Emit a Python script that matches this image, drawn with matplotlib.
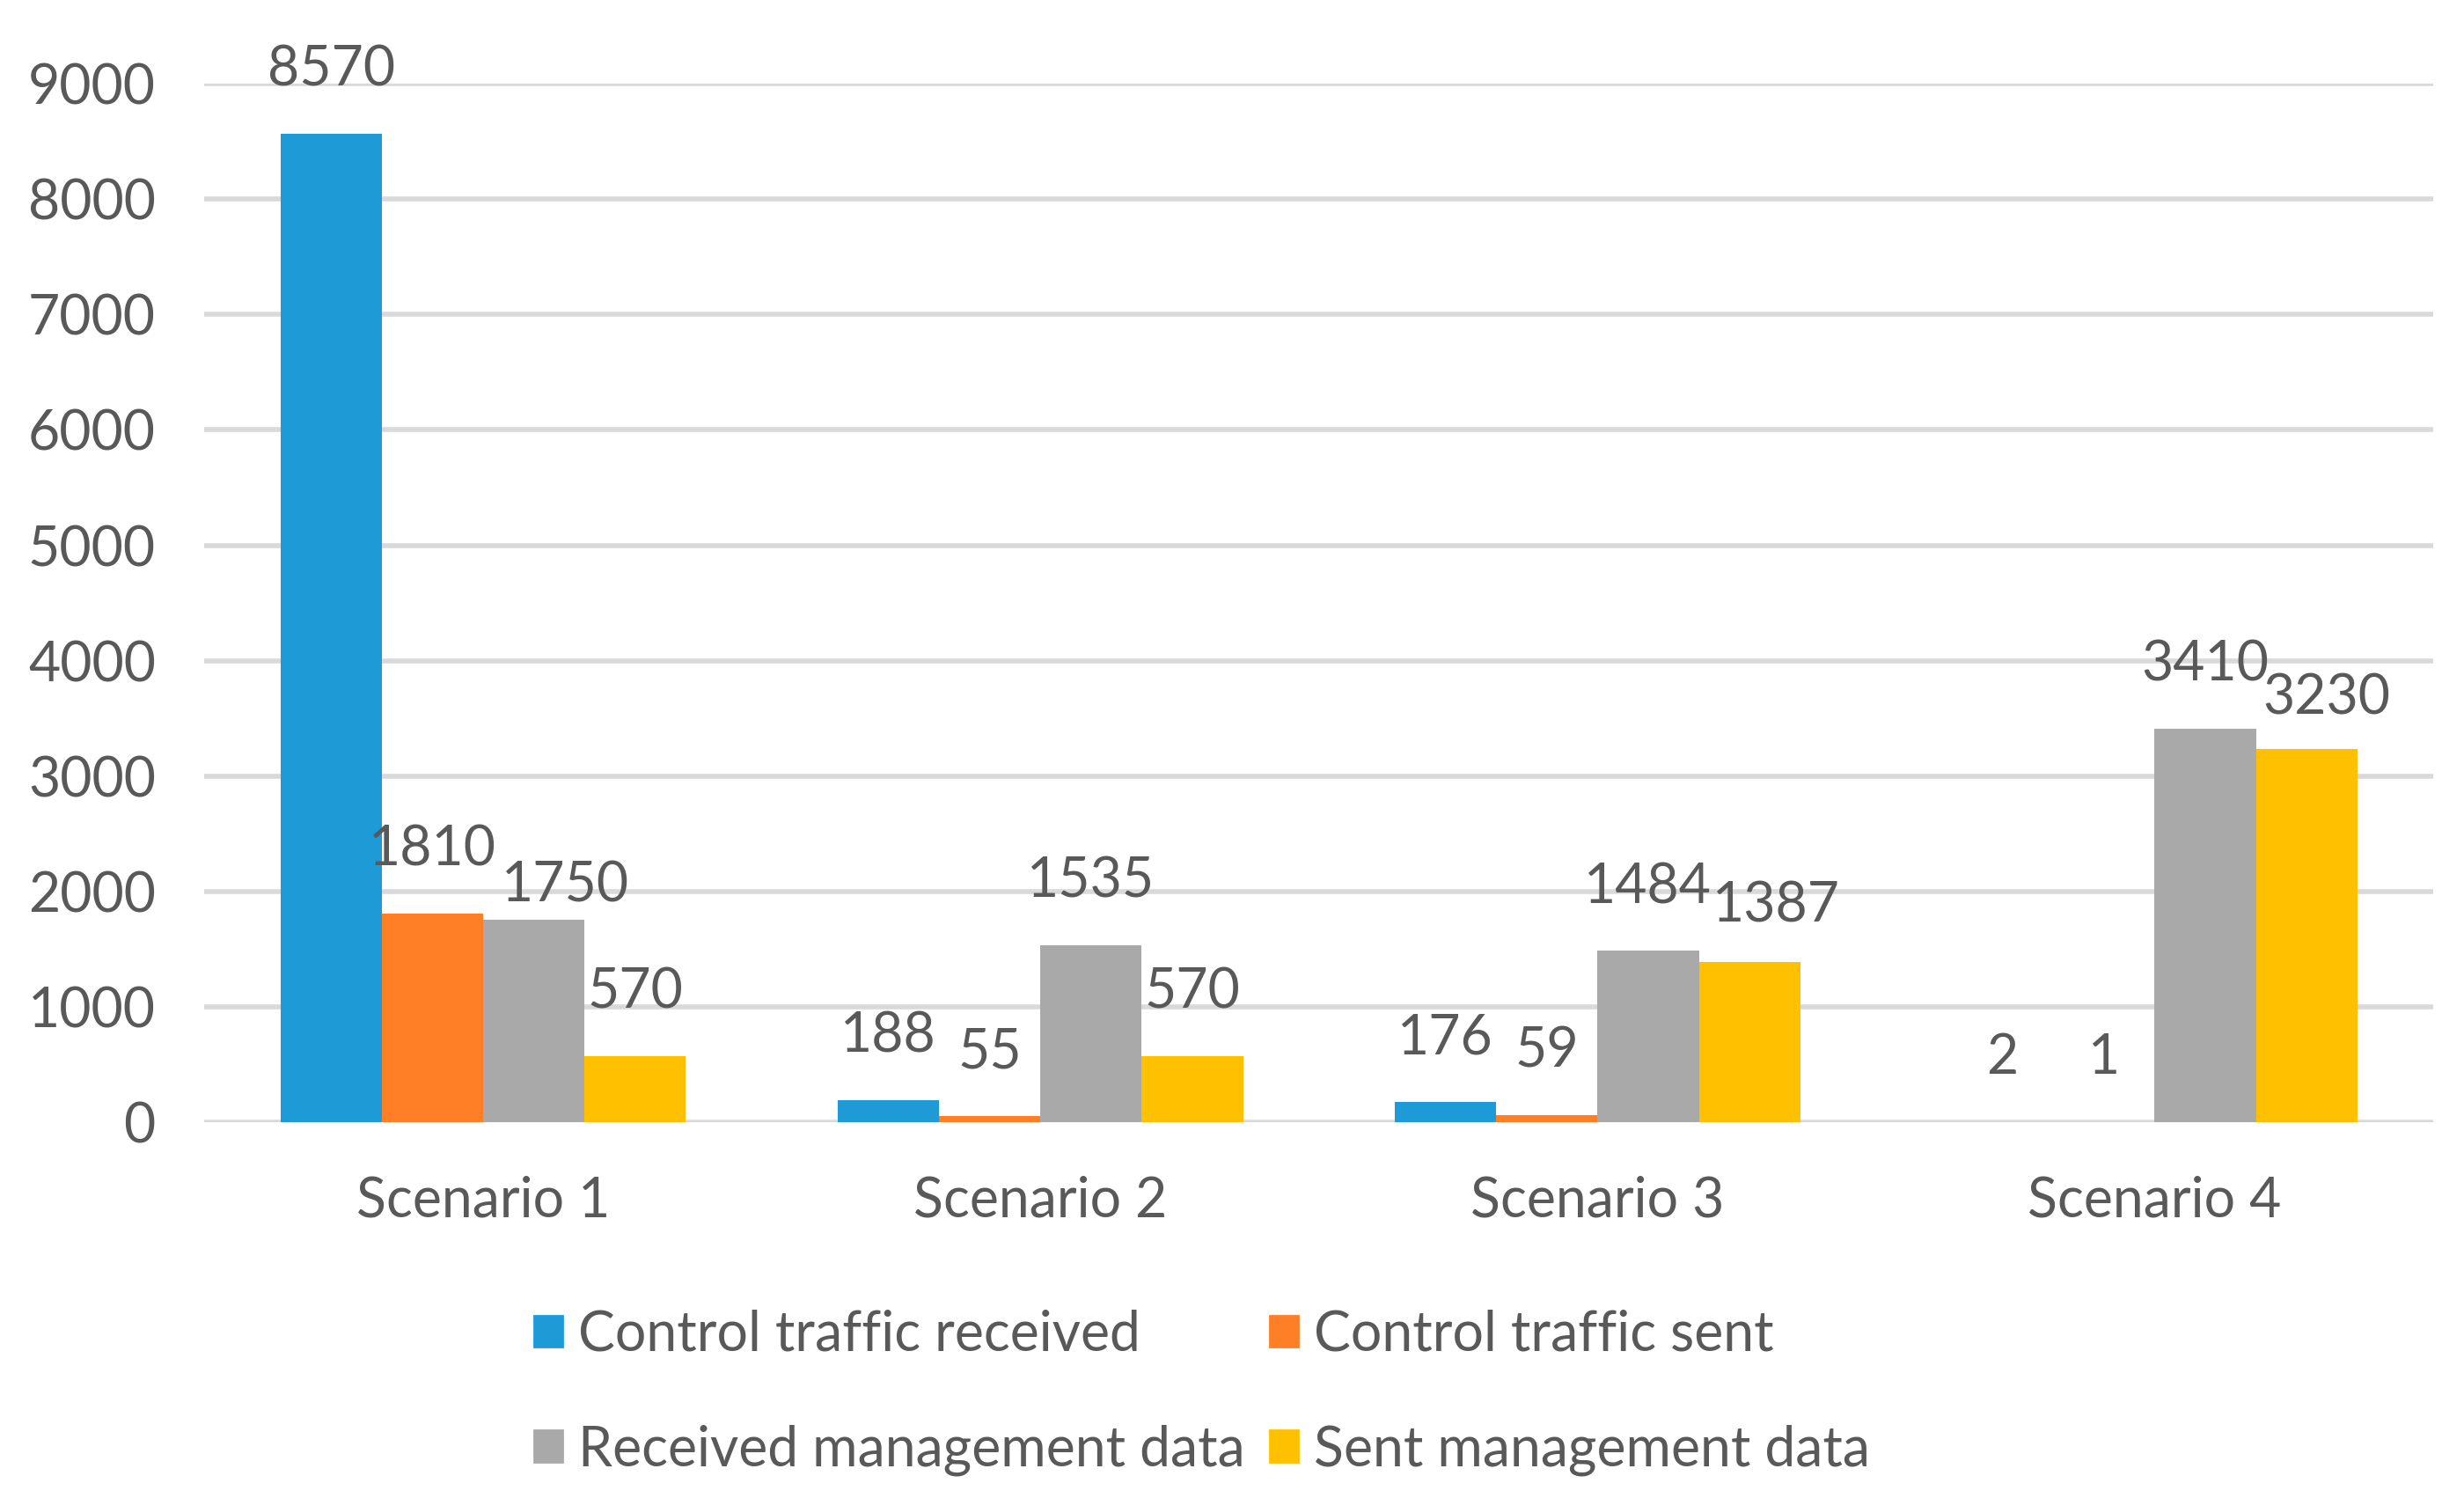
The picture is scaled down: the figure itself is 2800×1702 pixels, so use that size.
import numpy as np
import matplotlib.pyplot as plt
from matplotlib.patches import Patch

# Datos del gráfico
escenarios = ['Scenario 1', 'Scenario 2', 'Scenario 3', 'Scenario 4']
series = ['Control traffic received', 'Control traffic sent',
          'Received management data', 'Sent management data']
control_recibido = [8570, 188, 176, 2]
control_enviado = [1810, 55, 59, 1]
gestion_recibida = [1750, 1535, 1484, 3410]
gestion_enviada = [570, 570, 1387, 3230]
valores = [control_recibido, control_enviado, gestion_recibida, gestion_enviada]

colores = ['#1E9BD7', '#FF7F27', '#A9A9A9', '#FFC000']
texto = '#595959'
fs = 22.5

# pequeños desplazamientos (pt) de algunas etiquetas, como en el original
ajustes = {(2, 0): (13, -12), (3, 2): (11, -3), (3, 3): (8, -5)}

plt.rcParams['font.family'] = ['Lato', 'DejaVu Sans']

fig = plt.figure(figsize=(14, 8.51), dpi=200)
ax = fig.add_axes([0.083, 0.251, 0.9045, 0.693])

x = np.arange(len(escenarios))
ancho = 0.182
for i, (serie, vals) in enumerate(zip(series, valores)):
    pos = x + (i - 1.5) * ancho
    ax.bar(pos, vals, width=ancho, color=colores[i], label=serie, zorder=2)
    for j, v in enumerate(vals):
        dx, dy = ajustes.get((i, j), (0, 0))
        ax.annotate(str(v), (pos[j], v), xytext=(dx, 26 + dy),
                    textcoords='offset points', ha='center', va='center',
                    fontsize=fs, color=texto, annotation_clip=False)

ax.set_xlim(-0.5, 3.5)
ax.set_ylim(0, 9000)
ax.set_yticks(np.arange(0, 9001, 1000))
ax.set_xticks(x)
ax.set_xticklabels(escenarios)
ax.tick_params(axis='both', length=0, labelsize=fs, labelcolor=texto)
ax.tick_params(axis='y', pad=20)
ax.tick_params(axis='x', pad=22)
ax.grid(axis='y', color='#D9D9D9', linewidth=2)
ax.set_axisbelow(True)
for s in ax.spines.values():
    s.set_visible(False)

# la leyenda se llena por columnas: reordenar para filas como en el original
orden = [0, 2, 1, 3]
handles = [Patch(color=colores[k]) for k in orden]
etiquetas = [series[k] for k in orden]
fig.legend(handles, etiquetas, loc='center', bbox_to_anchor=(0.488, 0.0703),
           ncol=2, frameon=False, fontsize=fs, labelcolor=texto,
           handlelength=0.5, handleheight=0.5, handletextpad=0.3,
           columnspacing=0.45, labelspacing=1.16)

plt.savefig('out.png')
